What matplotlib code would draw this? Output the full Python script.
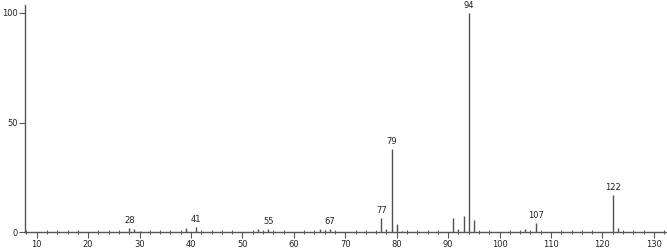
import matplotlib
matplotlib.use('Agg')
import matplotlib.pyplot as plt
from matplotlib.ticker import MultipleLocator

# m/z values and relative intensities
mz = [18, 28, 29, 30, 39, 41, 53, 55, 65, 66, 67, 77, 78, 79, 80, 81,
      91, 92, 93, 94, 95, 105, 107, 122, 123]
intensity = [0.5, 2.0, 1.7, 0.8, 1.8, 2.3, 1.4, 1.6, 1.3, 0.9, 1.5, 6.5, 1.5, 38.0, 3.8, 0.6,
             6.3, 1.4, 7.3, 100.0, 5.5, 1.4, 4.3, 17.0, 2.0]
labelled = [28, 41, 55, 67, 77, 79, 94, 107, 122]

x_ticks = [10, 20, 30, 40, 50, 60, 70, 80, 90, 100, 110, 120, 130]
y_ticks = [0, 50, 100]


def main():
    fig = plt.figure(figsize=(6.67, 2.49), dpi=100)
    ax = fig.add_axes([0.0375, 0.067, 0.9625, 0.913])

    ax.vlines(mz, 0, intensity, colors='#505050', linewidth=1.0)

    for m, h in zip(mz, intensity):
        if m in labelled:
            ax.annotate(str(m), (m, h), xytext=(0, 2), textcoords='offset points',
                        ha='center', va='bottom', fontsize=6, color='#222222')

    ax.set_xlim(7.73, 132.55)
    ax.set_ylim(0, 103.6)
    ax.set_xticks(x_ticks)
    ax.set_yticks(y_ticks)
    ax.xaxis.set_minor_locator(MultipleLocator(2))

    for s in ['top', 'right']:
        ax.spines[s].set_visible(False)
    for s in ['left', 'bottom']:
        ax.spines[s].set_color('#555555')
        ax.spines[s].set_linewidth(1.0)

    ax.tick_params(axis='x', which='major', direction='out', length=4, width=0.8,
                   colors='#555555', labelcolor='#222222', labelsize=6, pad=1.5)
    ax.tick_params(axis='x', which='minor', direction='inout', length=3, width=0.7,
                   colors='#555555')
    ax.tick_params(axis='y', which='major', direction='out', length=4, width=0.8,
                   colors='#555555', labelcolor='#222222', labelsize=6, pad=1)

    fig.savefig('out.png', dpi=100)


if __name__ == '__main__':
    main()
